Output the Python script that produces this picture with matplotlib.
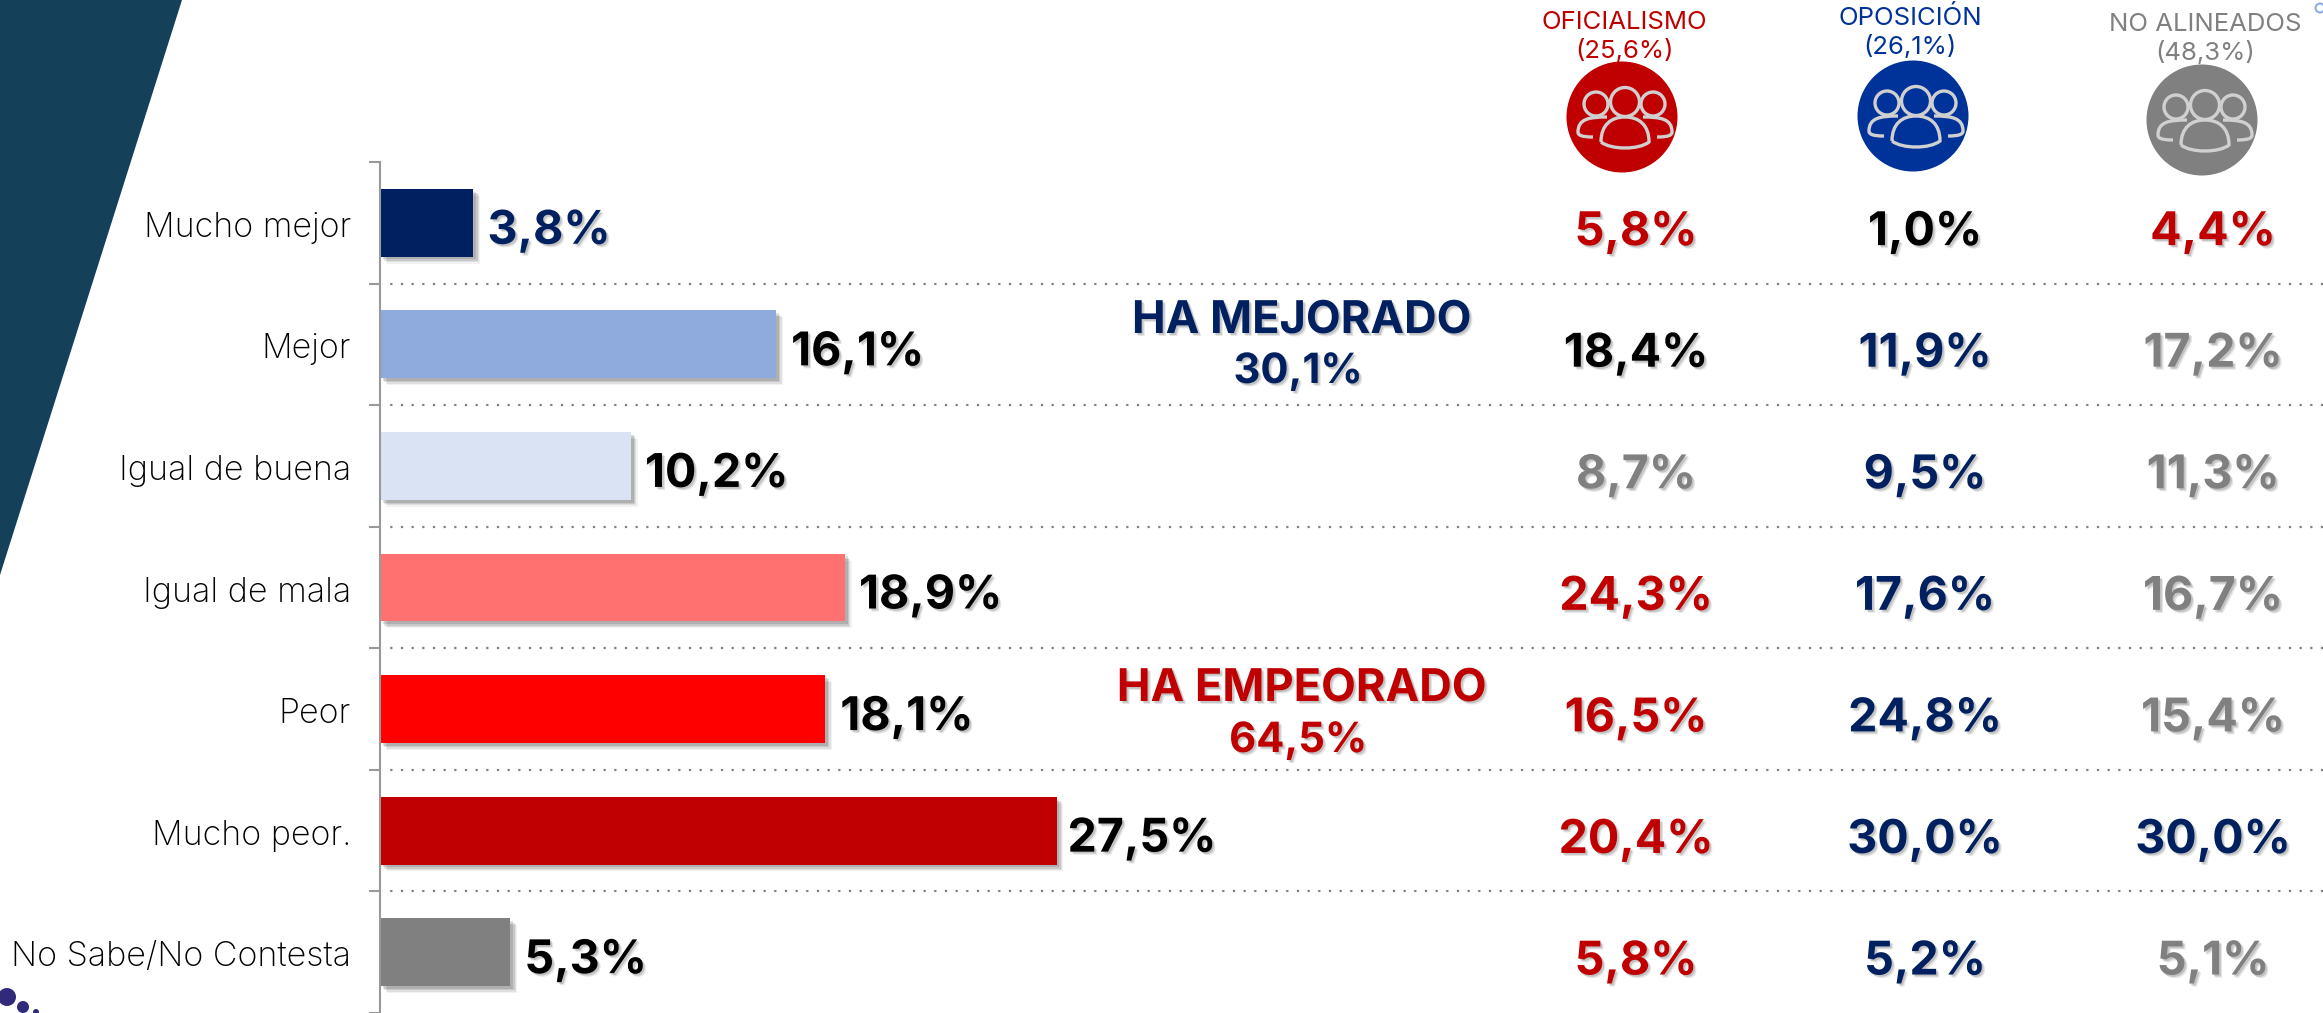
import matplotlib
matplotlib.use('Agg')
import matplotlib.pyplot as plt
import matplotlib.patheffects as pe
from matplotlib.patches import Ellipse, Polygon
from matplotlib.path import Path
from matplotlib.patches import PathPatch
from matplotlib.transforms import blended_transform_factory

plt.rcParams['font.family'] = ['Inter', 'DejaVu Sans']

NAVY = '#002060'
RED = '#c00000'
GREY = '#808080'
BLACK = '#000000'

categories = ['Mucho mejor', 'Mejor', 'Igual de buena', 'Igual de mala', 'Peor', 'Mucho peor.', 'No Sabe/No Contesta']
total = [3.8, 16.1, 10.2, 18.9, 18.1, 27.5, 5.3]
total_labels = ['3,8%', '16,1%', '10,2%', '18,9%', '18,1%', '27,5%', '5,3%']
total_colors = [NAVY, BLACK, BLACK, BLACK, BLACK, BLACK, BLACK]
bar_colors = ['#002060', '#8faadc', '#dae3f3', '#ff7171', '#ff0000', '#c00000', '#808080']

oficialismo = ['5,8%', '18,4%', '8,7%', '24,3%', '16,5%', '20,4%', '5,8%']
oficialismo_colors = [RED, BLACK, GREY, RED, RED, RED, RED]
oposicion = ['1,0%', '11,9%', '9,5%', '17,6%', '24,8%', '30,0%', '5,2%']
oposicion_colors = [BLACK, NAVY, NAVY, NAVY, NAVY, NAVY, NAVY]
no_alineados = ['4,4%', '17,2%', '11,3%', '16,7%', '15,4%', '30,0%', '5,1%']
no_alineados_colors = [RED, GREY, GREY, GREY, GREY, NAVY, GREY]

W, H = 2323, 1013
fig = plt.figure(figsize=(W / 100, H / 100), dpi=100, facecolor='white')

# overlay in pixel coords for the decoration
bg = fig.add_axes([0, 0, 1, 1])
bg.set_xlim(0, W)
bg.set_ylim(H, 0)
bg.axis('off')

bg.add_patch(Polygon([(0, 0), (182, 0), (0, 575)], closed=True, fc='#15405a', ec='none'))
for x, y, r, in [(7, 997, 9), (23, 1007, 6), (36, 1012, 3)]:
    bg.add_patch(Ellipse((x, y), 2 * r, 2 * r, fc='#2f2a7a', ec='none'))
bg.add_patch(Ellipse((2320, 8), 9, 9, fc='none', ec='#8faadc', lw=1.5))


def shadow():
    return [pe.SimplePatchShadow(offset=(2.2, -2.2), shadow_rgbFace='#000000', alpha=0.1),
            pe.SimplePatchShadow(offset=(1.3, -1.3), shadow_rgbFace='#000000', alpha=0.15),
            pe.Normal()]


# main chart, top of axes at the first tick (y=162), one row is 122 px
ax = fig.add_axes([380 / W, 0, (W - 380) / W, (H - 162) / H])
ax.patch.set_alpha(0)
ax.set_xlim(0, (W - 380) / 24.6)
ax.set_ylim((H - 162) / 122 - 0.5, -0.5)
ypos = list(range(len(categories)))

soft = [pe.SimplePatchShadow(offset=(5, -5), shadow_rgbFace='#000000', alpha=0.05),
        pe.SimplePatchShadow(offset=(4, -4), shadow_rgbFace='#000000', alpha=0.08),
        pe.SimplePatchShadow(offset=(3, -3), shadow_rgbFace='#000000', alpha=0.1),
        pe.SimplePatchShadow(offset=(2, -2), shadow_rgbFace='#000000', alpha=0.12),
        pe.Normal()]
bars = ax.barh(ypos, total, height=68 / 122, color=bar_colors)
for b in bars:
    b.set_path_effects(soft)

for s in ['top', 'right', 'bottom']:
    ax.spines[s].set_visible(False)
ax.spines['left'].set_color('#999999')
ax.spines['left'].set_linewidth(1.5)
ax.xaxis.set_visible(False)
ax.set_yticks([i - 0.5 for i in range(8)])
ax.set_yticklabels([])
ax.tick_params(axis='y', length=8, width=1.5, color='#999999')

for i in range(1, 7):
    ax.axhline(i - 0.5, color='#808080', lw=1.6, ls=(2, (1, 3.8)), xmin=0.002)

for i, lab in enumerate(categories):
    ax.annotate(lab, (0, i), xytext=(-29, -5), xycoords='data', textcoords='offset pixels', ha='right',
                va='center', fontsize=24.5, fontweight='light', color='black', annotation_clip=False)

# pixel gap between bar end and its label
gaps = [14, 15, 14, 14, 15, 11, 14]
for i, lab in enumerate(total_labels):
    ax.annotate(lab, (total[i], i), xytext=(gaps[i], -9), xycoords='data', textcoords='offset pixels', ha='left',
                va='center', fontsize=33.5, fontweight='bold', color=total_colors[i], path_effects=shadow())

# the three right columns
tr = blended_transform_factory(bg.transData, ax.transData)
columns = [(1636, oficialismo, oficialismo_colors), (1925, oposicion, oposicion_colors),
           (2213, no_alineados, no_alineados_colors)]
for cx, vals, cols in columns:
    for i, lab in enumerate(vals):
        ax.text(cx, i + 0.085, lab, transform=tr, ha='center', va='center', fontsize=33.5, fontweight='bold',
                color=cols[i], path_effects=shadow())

# group notes
for txt, x, y, fs, col in [('HA MEJORADO', 1302, 321, 32.5, NAVY), ('30,1%', 1298, 372, 30, NAVY),
                           ('HA EMPEORADO', 1302, 689, 32.5, RED), ('64,5%', 1298, 741, 30, RED)]:
    bg.text(x, y, txt, ha='center', va='center', fontsize=fs, fontweight='bold', color=col,
            path_effects=shadow())

# column heads with the people icons
heads = [(1622, 117, 1624, 22, 'OFICIALISMO', '(25,6%)', RED, '#c00000'),
         (1913, 116, 1910, 18, 'OPOSICIÓN', '(26,1%)', '#003399', '#003399'),
         (2202, 120, 2205, 24, 'NO ALINEADOS', '(48,3%)', GREY, '#808080')]


def people(cx, cy):
    kw = dict(fc='none', ec='#d0d0d0', lw=2.4)
    a = cx + 3
    bg.add_patch(Ellipse((a, cy - 15), 29, 29, **kw))
    bg.add_patch(Ellipse((a - 29, cy - 13), 24, 24, **kw))
    bg.add_patch(Ellipse((a + 28, cy - 13), 24, 24, **kw))
    # bodies
    verts = [(a - 24, cy + 25), (a - 24, cy + 8), (a - 14, cy), (a, cy), (a + 14, cy), (a + 24, cy + 8),
             (a + 24, cy + 25), (a + 14, cy + 33), (a - 14, cy + 33), (a - 24, cy + 25)]
    codes = [Path.MOVETO] + [Path.CURVE4] * 9
    bg.add_patch(PathPatch(Path(verts, codes), **kw))
    for s in [-1, 1]:
        v = [(a + s * 18, cy), (a + s * 36, cy), (a + s * 47, cy + 2), (a + s * 47, cy + 15),
             (a + s * 47, cy + 18), (a + s * 44, cy + 20), (a + s * 32, cy + 20)]
        c = [Path.MOVETO] + [Path.CURVE4] * 6
        bg.add_patch(PathPatch(Path(v, c), **kw))


for cx, cy, tx, ty, name, pct, tcol, ccol in heads:
    bg.add_patch(Ellipse((cx, cy), 111, 111, fc=ccol, ec='none'))
    people(cx, cy)
    bg.text(tx, ty, name, ha='center', va='center', fontsize=18.5, color=tcol)
    bg.text(tx, ty + 29, pct, ha='center', va='center', fontsize=18.5, color=tcol)

fig.savefig('out.png', dpi=100)
